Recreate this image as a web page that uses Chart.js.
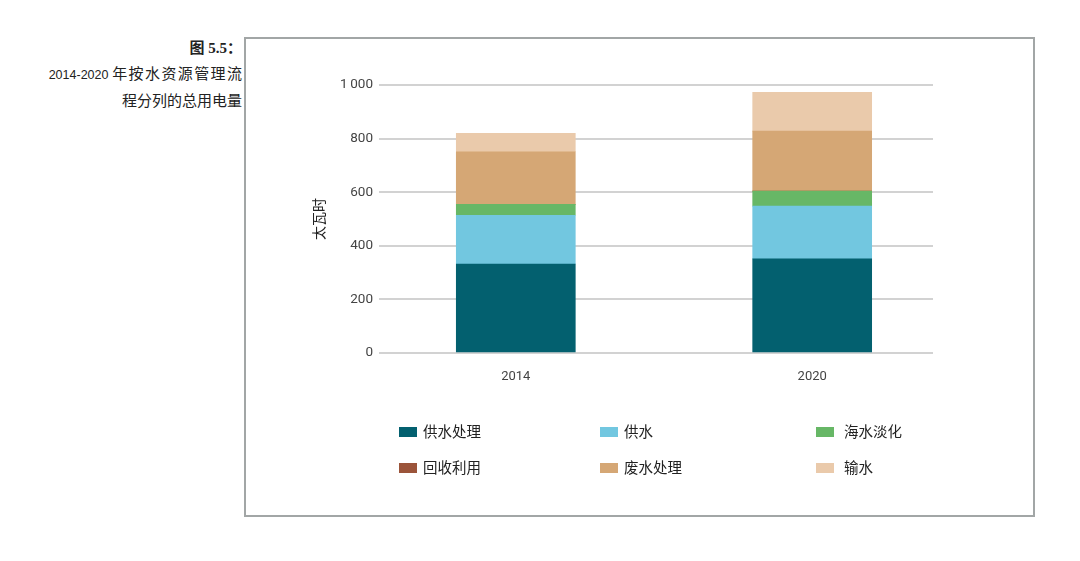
<!DOCTYPE html>
<html>
<head>
<meta charset="utf-8">
<script src="https://cdn.jsdelivr.net/npm/chart.js@4"></script>
<style>
  html, body { margin: 0; padding: 0; background: #ffffff; }
  body { width: 1080px; height: 561px; position: relative; overflow: hidden; }
  #frame { position: absolute; left: 244px; top: 37px; width: 787px; height: 476px; border: 2px solid #a2a6a6; }
  #chart { position: absolute; left: 0; top: 0; }
  .cap { position: absolute; right: 838px; white-space: nowrap; color: #222; font-family: "Liberation Serif", "Noto Sans CJK SC", serif; }
  .leg-box { position: absolute; width: 18px; height: 10px; }
  .leg-txt { position: absolute; font-family: "Noto Sans CJK SC", sans-serif; font-size: 14.5px; color: #222; line-height: 16px; white-space: nowrap; }
</style>
</head>
<body>
<div id="frame"></div>
<div class="cap" style="top:36px; font-size:15px; font-weight:bold;">图 5.5：</div>
<div class="cap" style="top:62px; font-size:15px;"><span style="font-family:'Liberation Sans',sans-serif; font-size:12.5px;">2014-2020</span> <span style="letter-spacing:1.4px; margin-right:-1.4px;">年按水资源管理流</span></div>
<div class="cap" style="top:89px; font-size:15px;">程分列的总用电量</div>
<canvas id="chart" width="1080" height="561"></canvas>
<div id="legend"></div>
<script>
const categories = ['2014', '2020'];
const seriesNames = ['供水处理', '供水', '海水淡化', '回收利用', '废水处理', '输水'];
const seriesColors = ['#03606f', '#72c7e0', '#67b766', '#9b543a', '#d5a775', '#eacaab'];
const supplyTreatment = [332, 351];
const supply = [182, 197];
const desalination = [41, 56];
const recycling = [0, 0];
const wastewater = [196, 224];
const conveyance = [69, 145];
const seriesValues = [supplyTreatment, supply, desalination, recycling, wastewater, conveyance];
const yTickValues = [0, 200, 400, 600, 800, 1000];
const yTickLabels = ['0', '200', '400', '600', '800', '1\u2009000'];
const yTitle = '太瓦时';

const X_MIN = -0.4615, X_MAX = 1.4076;

const datasets = seriesNames.map((name, s) => ({
  label: name,
  data: seriesValues[s].map((v, i) => ({ x: i, y: v })),
  backgroundColor: seriesColors[s],
  borderWidth: 0,
  barThickness: 119
}));

new Chart(document.getElementById('chart'), {
  type: 'bar',
  data: { datasets },
  options: {
    responsive: false,
    animation: false,
    layout: { padding: { left: 310, right: 147, top: 85, bottom: 168 } },
    plugins: { legend: { display: false }, tooltip: { enabled: false } },
    scales: {
      x: {
        type: 'linear',
        stacked: true,
        offset: false,
        bounds: 'data',
        min: X_MIN,
        max: X_MAX,
        grid: { display: false, offset: false },
        border: { display: false },
        afterBuildTicks: (scale) => {
          scale.ticks = categories.map((c, i) => ({ value: i }));
          scale.min = X_MIN;
          scale.max = X_MAX;
        },
        afterFit: (scale) => { scale.height = 40; },
        ticks: {
          padding: 8,
          color: '#444',
          font: { family: 'Roboto', size: 13 },
          callback: (v) => categories[v]
        }
      },
      y: {
        stacked: true,
        min: 0,
        max: 1000,
        afterBuildTicks: (scale) => { scale.ticks = yTickValues.map(v => ({ value: v })); },
        afterFit: (scale) => { scale.width = 69; },
        grid: { color: '#d2d2d2', lineWidth: 2, drawTicks: false },
        border: { display: false },
        ticks: {
          padding: 6,
          color: '#444',
          font: { family: 'Roboto', size: 13.5 },
          callback: (v) => yTickLabels[yTickValues.indexOf(v)]
        },
        title: {
          display: true,
          text: yTitle,
          color: '#222',
          padding: 0,
          font: { family: 'Noto Sans CJK SC', size: 14 }
        }
      }
    }
  }
});

// legend built from the series arrays
const legendPos = [
  { bx: 399, tx: 423, y: 432 }, { bx: 600, tx: 624, y: 432 }, { bx: 816, tx: 844, y: 432 },
  { bx: 399, tx: 423, y: 468 }, { bx: 600, tx: 624, y: 468 }, { bx: 816, tx: 844, y: 468 }
];
const legend = document.getElementById('legend');
seriesNames.forEach((name, i) => {
  const p = legendPos[i];
  const box = document.createElement('div');
  box.className = 'leg-box';
  box.style.left = p.bx + 'px';
  box.style.top = (p.y - 5) + 'px';
  box.style.background = seriesColors[i];
  const txt = document.createElement('div');
  txt.className = 'leg-txt';
  txt.style.left = p.tx + 'px';
  txt.style.top = (p.y - 9) + 'px';
  txt.textContent = name;
  legend.appendChild(box);
  legend.appendChild(txt);
});
</script>
</body>
</html>
